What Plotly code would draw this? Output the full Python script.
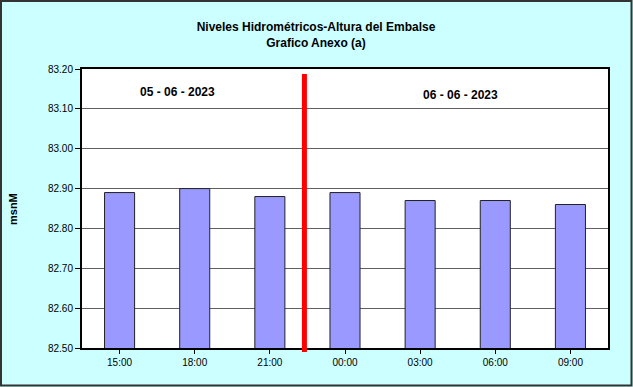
import plotly.graph_objects as go

categories = ["15:00", "18:00", "21:00", "00:00", "03:00", "06:00", "09:00"]
levels = [82.89, 82.90, 82.88, 82.89, 82.87, 82.87, 82.86]
y_ticks = [82.50, 82.60, 82.70, 82.80, 82.90, 83.00, 83.10, 83.20]
date_labels = ["05 - 06 - 2023", "06 - 06 - 2023"]
day_break = 2.46

W, H = 633, 387
L, R, T, B = 82, 25, 69, 39
pw, ph = W - L - R, H - T - B

fig = go.Figure()
fig.add_trace(go.Bar(
    x=list(range(len(categories))), y=levels,
    width=0.4,
    marker=dict(color="#9999FF", line=dict(color="#222222", width=1)),
))

fig.update_layout(
    width=W, height=H,
    margin=dict(l=L, r=R, t=T, b=B),
    paper_bgcolor="#CCFFFF", plot_bgcolor="white",
    showlegend=False,
    font=dict(family="Liberation Sans, Arial, sans-serif", size=10, color="black"),
    title=dict(text="<b>Niveles Hidrométricos-Altura del Embalse<br>Grafico Anexo (a)</b>",
               x=(316 - L) / pw, xref="paper", xanchor="center",
               y=1 - 31 / H, yanchor="middle",
               font=dict(size=12, color="black")),
)
fig.update_xaxes(
    tickmode="array", tickvals=list(range(len(categories))), ticktext=categories,
    range=[-0.5, len(categories) - 0.5],
    showline=True, linecolor="black", linewidth=2, mirror=True,
    showgrid=False, ticks="outside", ticklen=4, tickcolor="black",
    tickfont=dict(size=10),
)
fig.update_yaxes(
    range=[82.5, 83.2], tickvals=y_ticks, ticktext=[f"{v:.2f}" for v in y_ticks],
    showline=True, linecolor="black", linewidth=2, mirror=True,
    showgrid=True, gridcolor="#606060", gridwidth=1,
    ticks="outside", ticklen=5, tickcolor="black",
    tickfont=dict(size=10),
)

# y-axis title
fig.add_annotation(x=(13 - L) / pw, y=(348 - 209) / ph, xref="paper", yref="paper",
                   text="<b>msnM</b>", textangle=-90, showarrow=False,
                   xanchor="center", yanchor="middle",
                   font=dict(size=11, color="black"))

# day separator
fig.add_shape(type="line", xref="x", yref="paper",
              x0=day_break, x1=day_break,
              y0=-(352 - 348) / ph, y1=(348 - 74) / ph,
              line=dict(color="red", width=5))

# date annotations
fig.add_annotation(x=(177 - L) / pw, y=(348 - 92) / ph, xref="paper", yref="paper",
                   text=f"<b>{date_labels[0]}</b>", showarrow=False,
                   xanchor="center", yanchor="middle",
                   font=dict(size=12, color="black"))
fig.add_annotation(x=(460 - L) / pw, y=(348 - 95) / ph, xref="paper", yref="paper",
                   text=f"<b>{date_labels[1]}</b>", showarrow=False,
                   xanchor="center", yanchor="middle",
                   font=dict(size=12, color="black"))

# outer border
fig.add_shape(type="rect", xref="paper", yref="paper",
              x0=(1 - L) / pw, x1=(W - 1.5 - L) / pw,
              y0=-(B - 1.5) / ph, y1=1 + (T - 1) / ph,
              line=dict(color="#333333", width=2), layer="above")

fig.write_html("out.html")
